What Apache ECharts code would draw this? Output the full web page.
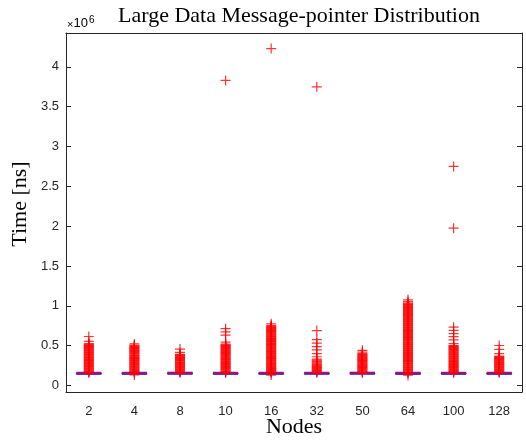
<!DOCTYPE html>
<html>
<head>
<meta charset="utf-8">
<script src="https://cdn.jsdelivr.net/npm/echarts@6/dist/echarts.min.js"></script>
<style>
  html, body { margin: 0; padding: 0; background: #fff; }
  #chart { width: 526px; height: 443px; }
</style>
</head>
<body>
<div id="chart"></div>
<script>
// Node counts on the x axis
const nodes = ['2', '4', '8', '10', '16', '32', '50', '64', '100', '128'];

// Box statistics per node count, in units of 10^6 ns:
// [lower whisker, Q1, median, Q3, upper whisker]
const boxStats = [
  [0.138, 0.146, 0.151, 0.157, 0.165],
  [0.138, 0.146, 0.151, 0.157, 0.165],
  [0.139, 0.147, 0.152, 0.158, 0.166],
  [0.138, 0.146, 0.151, 0.157, 0.165],
  [0.138, 0.146, 0.151, 0.157, 0.165],
  [0.139, 0.146, 0.151, 0.157, 0.165],
  [0.139, 0.147, 0.152, 0.158, 0.166],
  [0.137, 0.146, 0.151, 0.157, 0.165],
  [0.138, 0.146, 0.151, 0.157, 0.165],
  [0.138, 0.146, 0.151, 0.157, 0.165]
];

// Outlier times per node count (10^6 ns)
const out2 = [0.158, 0.166, 0.173, 0.182, 0.19, 0.197, 0.206, 0.214, 0.221, 0.229, 0.238, 0.246, 0.253, 0.262, 0.27, 0.277, 0.286, 0.294, 0.301, 0.31, 0.318, 0.325, 0.334, 0.342, 0.349, 0.358, 0.366, 0.373, 0.382, 0.39, 0.397, 0.406, 0.414, 0.421, 0.43, 0.438, 0.445, 0.454, 0.462, 0.469, 0.478, 0.486, 0.493, 0.502, 0.51, 0.517, 0.526, 0.553, 0.614];
const out4 = [0.131, 0.159, 0.167, 0.175, 0.183, 0.19, 0.199, 0.207, 0.215, 0.222, 0.231, 0.239, 0.247, 0.254, 0.263, 0.271, 0.279, 0.286, 0.295, 0.303, 0.311, 0.318, 0.327, 0.335, 0.343, 0.35, 0.359, 0.367, 0.375, 0.382, 0.391, 0.399, 0.407, 0.414, 0.423, 0.431, 0.439, 0.446, 0.455, 0.463, 0.471, 0.478, 0.487, 0.495, 0.503, 0.521];
const out8 = [0.159, 0.167, 0.174, 0.183, 0.191, 0.198, 0.207, 0.215, 0.222, 0.231, 0.239, 0.246, 0.255, 0.263, 0.27, 0.279, 0.287, 0.294, 0.303, 0.311, 0.318, 0.327, 0.335, 0.342, 0.351, 0.359, 0.366, 0.375, 0.383, 0.39, 0.414, 0.456];
const out10 = [0.158, 0.166, 0.174, 0.181, 0.19, 0.198, 0.206, 0.213, 0.222, 0.23, 0.238, 0.245, 0.254, 0.262, 0.27, 0.277, 0.286, 0.294, 0.302, 0.309, 0.318, 0.326, 0.334, 0.341, 0.35, 0.358, 0.366, 0.373, 0.382, 0.39, 0.398, 0.405, 0.414, 0.422, 0.43, 0.437, 0.446, 0.454, 0.462, 0.469, 0.478, 0.486, 0.494, 0.501, 0.51, 0.518, 0.544, 0.632, 0.671, 0.712, 3.83];
const out16 = [0.129, 0.159, 0.167, 0.175, 0.182, 0.191, 0.199, 0.207, 0.214, 0.223, 0.231, 0.239, 0.246, 0.255, 0.263, 0.271, 0.278, 0.287, 0.295, 0.303, 0.31, 0.319, 0.327, 0.335, 0.342, 0.351, 0.359, 0.367, 0.374, 0.383, 0.391, 0.399, 0.406, 0.415, 0.423, 0.431, 0.438, 0.447, 0.455, 0.463, 0.47, 0.479, 0.487, 0.495, 0.502, 0.511, 0.519, 0.527, 0.534, 0.543, 0.551, 0.559, 0.566, 0.575, 0.583, 0.591, 0.598, 0.607, 0.615, 0.623, 0.63, 0.639, 0.647, 0.655, 0.662, 0.671, 0.679, 0.687, 0.694, 0.703, 0.711, 0.719, 0.726, 0.735, 0.743, 0.751, 0.773, 4.23];
const out32 = [0.159, 0.168, 0.176, 0.185, 0.193, 0.202, 0.21, 0.219, 0.227, 0.236, 0.244, 0.253, 0.261, 0.272, 0.283, 0.295, 0.306, 0.318, 0.331, 0.36, 0.398, 0.447, 0.488, 0.531, 0.574, 0.689, 3.75];
const out50 = [0.158, 0.166, 0.174, 0.182, 0.19, 0.198, 0.206, 0.214, 0.222, 0.23, 0.238, 0.246, 0.254, 0.262, 0.27, 0.278, 0.286, 0.294, 0.302, 0.31, 0.318, 0.326, 0.334, 0.342, 0.35, 0.358, 0.366, 0.374, 0.382, 0.39, 0.398, 0.418, 0.44];
const out64 = [0.128, 0.157, 0.165, 0.174, 0.182, 0.191, 0.199, 0.208, 0.216, 0.225, 0.233, 0.242, 0.25, 0.259, 0.267, 0.276, 0.284, 0.293, 0.301, 0.31, 0.318, 0.327, 0.335, 0.344, 0.352, 0.361, 0.369, 0.378, 0.386, 0.395, 0.403, 0.412, 0.42, 0.429, 0.437, 0.446, 0.454, 0.463, 0.471, 0.48, 0.488, 0.497, 0.505, 0.514, 0.522, 0.531, 0.539, 0.548, 0.556, 0.565, 0.573, 0.582, 0.59, 0.599, 0.607, 0.616, 0.624, 0.633, 0.641, 0.65, 0.658, 0.667, 0.675, 0.684, 0.692, 0.701, 0.709, 0.718, 0.726, 0.735, 0.743, 0.752, 0.76, 0.769, 0.777, 0.786, 0.794, 0.803, 0.811, 0.82, 0.828, 0.837, 0.845, 0.854, 0.862, 0.871, 0.879, 0.888, 0.896, 0.905, 0.913, 0.922, 0.93, 0.939, 0.947, 0.956, 0.964, 0.973, 0.981, 0.99, 0.998, 1.007, 1.015, 1.024, 1.034, 1.052, 1.075];
const out100 = [0.158, 0.166, 0.175, 0.183, 0.191, 0.199, 0.207, 0.216, 0.224, 0.232, 0.24, 0.248, 0.257, 0.265, 0.273, 0.281, 0.289, 0.298, 0.306, 0.314, 0.322, 0.33, 0.339, 0.347, 0.355, 0.363, 0.371, 0.38, 0.388, 0.396, 0.404, 0.412, 0.421, 0.429, 0.437, 0.445, 0.453, 0.462, 0.47, 0.478, 0.486, 0.494, 0.503, 0.526, 0.571, 0.612, 0.651, 0.69, 0.731, 1.975, 2.75];
const out128 = [0.159, 0.167, 0.175, 0.183, 0.191, 0.199, 0.207, 0.215, 0.223, 0.231, 0.239, 0.247, 0.255, 0.263, 0.271, 0.279, 0.287, 0.295, 0.303, 0.311, 0.319, 0.327, 0.335, 0.343, 0.351, 0.359, 0.368, 0.398, 0.452, 0.501];

// Y-axis tick values (10^6 ns)
const yTicks = [0, 0.5, 1, 1.5, 2, 2.5, 3, 3.5, 4];

const outlierLists = [out2, out4, out8, out10, out16, out32, out50, out64, out100, out128];
const outlierPoints = [];
outlierLists.forEach((list, i) => list.forEach(v => outlierPoints.push([nodes[i], v])));
const medianPoints = boxStats.map((s, i) => [nodes[i], s[2]]);

const axisColor = '#262626';
const sans = 'Liberation Sans, Arial, sans-serif';
const serif = 'Liberation Serif, serif';
const tickFont = { fontFamily: sans, fontSize: 13, color: axisColor };

const chart = echarts.init(document.getElementById('chart'), null, { renderer: 'canvas' });
chart.setOption({
  animation: false,
  backgroundColor: '#ffffff',
  title: {
    text: 'Large Data Message-pointer Distribution',
    left: 294, top: 0, textAlign: 'center',
    textStyle: { fontFamily: serif, fontSize: 22, fontWeight: 'normal', color: '#000' }
  },
  graphic: [{
    type: 'text', x: 67, y: 30,
    style: {
      text: '{x|×}{a|10}{b|6}',
      verticalAlign: 'bottom',
      rich: {
        x: { fontFamily: sans, fontSize: 11, color: axisColor, verticalAlign: 'bottom' },
        a: { fontFamily: sans, fontSize: 13, color: axisColor, verticalAlign: 'bottom' },
        b: { fontFamily: sans, fontSize: 10, color: axisColor, verticalAlign: 'bottom', padding: [0, 0, 5, 1] }
      }
    }
  }, {
    type: 'text', x: 20, y: 204, rotation: Math.PI / 2,
    style: {
      text: 'Time [ns]', align: 'center', verticalAlign: 'middle',
      fontFamily: serif, fontSize: 22, fill: '#000'
    }
  }],
  grid: { left: 66, right: 4, top: 33, bottom: 51, outerBoundsMode: 'none' },
  xAxis: [{
    type: 'category', data: nodes, position: 'bottom', boundaryGap: true,
    name: 'Nodes', nameLocation: 'middle', nameGap: 24, nameMoveOverlap: false,
    nameTextStyle: { fontFamily: serif, fontSize: 22, color: '#000' },
    axisLine: { onZero: false, lineStyle: { color: axisColor, width: 1 } },
    axisTick: { inside: true, alignWithLabel: true, length: 5, lineStyle: { color: axisColor } },
    axisLabel: Object.assign({ margin: 13 }, tickFont),
    splitLine: { show: false }
  }, {
    type: 'category', data: nodes, position: 'top', boundaryGap: true,
    axisLine: { onZero: false, lineStyle: { color: axisColor, width: 1 } },
    axisTick: { inside: true, alignWithLabel: true, length: 5, lineStyle: { color: axisColor } },
    axisLabel: { show: false }, splitLine: { show: false }
  }],
  yAxis: [{
    type: 'value', min: -0.083, max: 4.426, position: 'left',
    axisLine: { show: true, onZero: false, lineStyle: { color: axisColor, width: 1 } },
    axisTick: { show: true, inside: true, length: 5, customValues: yTicks, lineStyle: { color: axisColor } },
    axisLabel: Object.assign({ customValues: yTicks, margin: 7, formatter: v => String(v) }, tickFont),
    splitLine: { show: false }
  }, {
    type: 'value', min: -0.083, max: 4.426, position: 'right',
    axisLine: { show: true, onZero: false, lineStyle: { color: axisColor, width: 1 } },
    axisTick: { show: true, inside: true, length: 5, customValues: yTicks, lineStyle: { color: axisColor } },
    axisLabel: { show: false }, splitLine: { show: false }
  }],
  series: [{
    type: 'boxplot',
    data: boxStats,
    boxWidth: [25, 25],
    itemStyle: { color: 'rgba(0,0,0,0)', borderColor: '#0000ff', borderWidth: 0.8 },
    z: 2
  }, {
    type: 'scatter',
    data: outlierPoints,
    symbol: 'path://M5,0L5,10M0,5L10,5',
    symbolSize: 10,
    itemStyle: { color: 'rgba(0,0,0,0)', borderColor: '#ff0000', borderWidth: 1.2 },
    z: 3
  }, {
    type: 'scatter',
    data: medianPoints,
    symbol: 'rect',
    symbolSize: [25, 1.5],
    itemStyle: { color: '#ff0000' },
    z: 4
  }]
});
</script>
</body>
</html>
